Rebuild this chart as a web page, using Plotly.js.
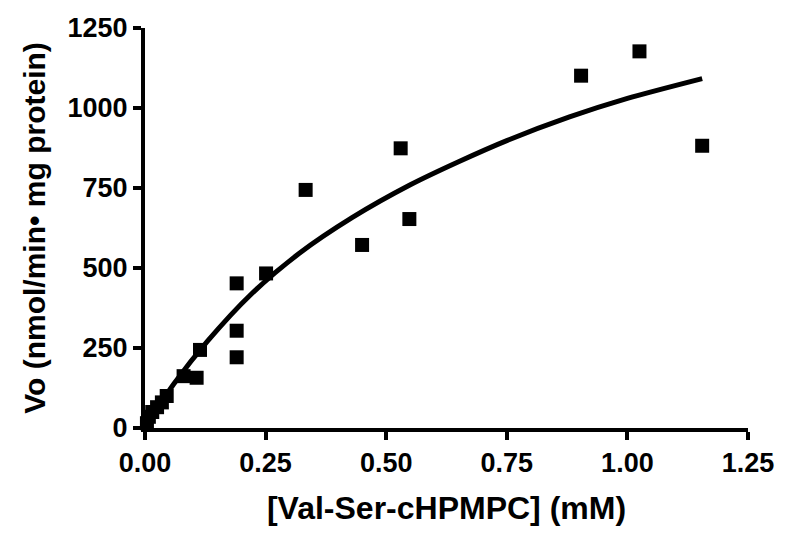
<!DOCTYPE html>
<html>
<head>
<meta charset="utf-8">
<script src="https://cdn.plot.ly/plotly-3.0.1.min.js"></script>
<style>
  html, body { margin: 0; padding: 0; background: #fff; }
  #plot { width: 800px; height: 547px; }
</style>
</head>
<body>
<div id="plot"></div>
<script>
  // measured substrate concentration (mM) and initial velocity
  var substrate = [0.004, 0.008, 0.015, 0.025, 0.035, 0.045, 0.08, 0.107, 0.114,
                   0.19, 0.19, 0.19, 0.251, 0.333, 0.45, 0.53, 0.548, 0.904, 1.025, 1.155];
  var velocity  = [15, 35, 50, 65, 80, 100, 162, 157, 244,
                   452, 304, 221, 483, 744, 572, 874, 653, 1101, 1177, 882];

  // fitted curve
  var fitS = [0, 0.02, 0.06, 0.13, 0.22, 0.32, 0.43, 0.55, 0.65, 0.75, 0.88, 1.0, 1.155];
  var fitV = [0, 48, 138, 272, 418, 546, 658, 760, 832, 898, 972, 1030, 1092];

  var xTicks = [0, 0.25, 0.5, 0.75, 1.0, 1.25];
  var xTickText = ['0.00', '0.25', '0.50', '0.75', '1.00', '1.25'];
  var yTicks = [0, 250, 500, 750, 1000, 1250];

  var fontFam = 'Liberation Sans, Arial, sans-serif';

  var fit = {
    x: fitS,
    y: fitV,
    mode: 'lines',
    line: {color: '#000', width: 5, shape: 'spline', smoothing: 0.8},
    hoverinfo: 'skip'
  };

  var pts = {
    x: substrate,
    y: velocity,
    mode: 'markers',
    marker: {symbol: 'square', size: 14, color: '#000'},
    cliponaxis: false
  };

  var axisCommon = {
    showgrid: false,
    zeroline: false,
    showline: true,
    linecolor: '#000',
    linewidth: 4,
    ticks: 'outside',
    ticklen: 8,
    tickwidth: 4,
    tickcolor: '#000',
    tickfont: {family: fontFam, size: 27, color: '#000', weight: 'bold'}
  };

  var layout = {
    width: 800,
    height: 547,
    showlegend: false,
    paper_bgcolor: '#fff',
    plot_bgcolor: '#fff',
    margin: {l: 145, r: 52, t: 28, b: 119},
    xaxis: Object.assign({}, axisCommon, {
      range: [0, 1.25],
      tickvals: xTicks,
      ticktext: xTickText,
      title: {text: '[Val-Ser-cHPMPC] (mM)', standoff: 20,
              font: {family: fontFam, size: 32, color: '#000', weight: 'bold'}}
    }),
    yaxis: Object.assign({}, axisCommon, {
      range: [0, 1250],
      tickvals: yTicks,
      title: {text: 'Vo (nmol/min\u2022 mg protein)', standoff: 14,
              font: {family: fontFam, size: 30, color: '#000', weight: 'bold'}}
    })
  };

  Plotly.newPlot('plot', [fit, pts], layout, {displayModeBar: false, staticPlot: true});
</script>
</body>
</html>
